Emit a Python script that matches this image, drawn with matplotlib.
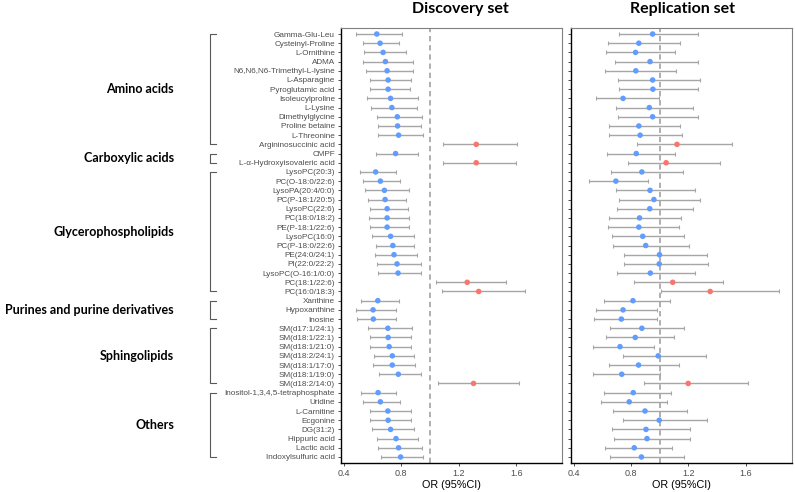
import numpy as np
import matplotlib.pyplot as plt
from matplotlib.lines import Line2D
import matplotlib.transforms as mtransforms

metabolites = [
    "Gamma-Glu-Leu", "Cysteinyl-Proline", "L-Ornithine", "ADMA",
    "N6,N6,N6-Trimethyl-L-lysine", "L-Asparagine", "Pyroglutamic acid",
    "Isoleucylproline", "L-Lysine", "Dimethylglycine", "Proline betaine",
    "L-Threonine", "Argininosuccinic acid",
    "CMPF", "L-\u03b1-Hydroxyisovaleric acid",
    "LysoPC(20:3)", "PC(O-18:0/22:6)", "LysoPA(20:4/0:0)", "PC(P-18:1/20:5)",
    "LysoPC(22:6)", "PC(18:0/18:2)", "PE(P-18:1/22:6)", "LysoPC(16:0)",
    "PC(P-18:0/22:6)", "PE(24:0/24:1)", "PI(22:0/22:2)", "LysoPC(O-16:1/0:0)",
    "PC(18:1/22:6)", "PC(16:0/18:3)",
    "Xanthine", "Hypoxanthine", "Inosine",
    "SM(d17:1/24:1)", "SM(d18:1/22:1)", "SM(d18:1/21:0)", "SM(d18:2/24:1)",
    "SM(d18:1/17:0)", "SM(d18:1/19:0)", "SM(d18:2/14:0)",
    "Inositol-1,3,4,5-tetraphosphate", "Uridine", "L-Carnitine", "Ecgonine",
    "DG(31:2)", "Hippuric acid", "Lactic acid", "Indoxylsulfuric acid",
]

groups = ["Amino acids", "Carboxylic acids", "Glycerophospholipids",
          "Purines and purine derivatives", "Sphingolipids", "Others"]
group_sizes = [13, 2, 14, 3, 7, 8]

# discovery set: odds ratio and 95% CI
disc_or = [0.629, 0.652, 0.673, 0.689, 0.701, 0.708, 0.708, 0.725, 0.734, 0.772,
           0.774, 0.781, 1.322, 0.760, 1.322,
           0.621, 0.654, 0.682, 0.687, 0.701, 0.701, 0.701, 0.725, 0.741, 0.749,
           0.770, 0.777, 1.259, 1.339,
           0.636, 0.603, 0.605,
           0.706, 0.708, 0.715, 0.737, 0.737, 0.779, 1.303,
           0.638, 0.654, 0.706, 0.708, 0.725, 0.763, 0.781, 0.795]
disc_lo = [0.483, 0.534, 0.541, 0.534, 0.555, 0.581, 0.583, 0.562, 0.591, 0.631,
           0.636, 0.640, 1.092, 0.626, 1.092,
           0.513, 0.532, 0.548, 0.565, 0.579, 0.572, 0.579, 0.593, 0.621, 0.617,
           0.628, 0.638, 1.042, 1.085,
           0.516, 0.485, 0.492,
           0.569, 0.579, 0.581, 0.610, 0.605, 0.647, 1.054,
           0.518, 0.530, 0.579, 0.579, 0.598, 0.633, 0.640, 0.657]
disc_hi = [0.805, 0.786, 0.833, 0.883, 0.883, 0.864, 0.862, 0.918, 0.911, 0.946,
           0.939, 0.951, 1.607, 0.915, 1.600,
           0.760, 0.788, 0.855, 0.833, 0.845, 0.852, 0.850, 0.890, 0.890, 0.911,
           0.939, 0.939, 1.529, 1.663,
           0.784, 0.760, 0.760,
           0.876, 0.864, 0.869, 0.887, 0.892, 0.939, 1.619,
           0.765, 0.788, 0.864, 0.869, 0.885, 0.915, 0.943, 0.951]

# replication set
rep_or = [0.950, 0.854, 0.831, 0.932, 0.833, 0.950, 0.952, 0.744, 0.927, 0.950,
          0.854, 0.863, 1.120, 0.836, 1.044,
          0.875, 0.694, 0.932, 0.959, 0.930, 0.859, 0.854, 0.881, 0.902, 0.998,
          0.996, 0.934, 1.090, 1.351,
          0.813, 0.744, 0.732,
          0.875, 0.829, 0.723, 0.989, 0.852, 0.735, 1.198,
          0.815, 0.787, 0.897, 0.996, 0.904, 0.911, 0.822, 0.872]
rep_lo = [0.716, 0.636, 0.622, 0.691, 0.620, 0.707, 0.718, 0.553, 0.698, 0.712,
          0.643, 0.643, 0.842, 0.629, 0.776,
          0.657, 0.505, 0.698, 0.718, 0.705, 0.643, 0.638, 0.664, 0.673, 0.751,
          0.749, 0.703, 0.822, 1.007,
          0.609, 0.553, 0.544,
          0.654, 0.622, 0.533, 0.742, 0.643, 0.535, 0.890,
          0.609, 0.588, 0.673, 0.746, 0.670, 0.682, 0.615, 0.650]
rep_hi = [1.269, 1.141, 1.108, 1.264, 1.115, 1.278, 1.264, 0.996, 1.234, 1.267,
          1.138, 1.157, 1.502, 1.106, 1.420,
          1.161, 0.921, 1.244, 1.278, 1.234, 1.145, 1.134, 1.168, 1.202, 1.328,
          1.333, 1.246, 1.443, 1.833,
          1.069, 0.980, 0.980,
          1.166, 1.099, 0.959, 1.319, 1.131, 0.998, 1.615,
          1.081, 1.049, 1.193, 1.326, 1.214, 1.212, 1.088, 1.168]

xticks = [0.4, 0.8, 1.2, 1.6]

BLUE = "#619CFF"
RED = "#F8766D"
n = len(metabolites)
ypos = np.arange(n)
colors = [RED if v > 1 else BLUE for v in disc_or]

plt.rcParams["font.family"] = ["Liberation Sans", "DejaVu Sans"]

fig = plt.figure(figsize=(7.95, 4.92), dpi=100)
ax1 = fig.add_axes([0.429, 0.059, 0.278, 0.884])
ax2 = fig.add_axes([0.718, 0.059, 0.278, 0.884])


def forest(ax, est, lo, hi, title, tx):
    est, lo, hi = np.array(est), np.array(lo), np.array(hi)
    ax.axvline(1.0, color="#9a9a9a", lw=1.1, ls=(0, (3.5, 2.5)), zorder=1)
    ax.errorbar(est, ypos, xerr=[est - lo, hi - est], fmt="none",
                ecolor="#a6a6a6", elinewidth=1.0, capsize=1.3, capthick=0.8,
                zorder=2)
    ax.scatter(est, ypos, s=16, c=colors, zorder=3, linewidths=0)
    ax.set_xlim(0.38, 1.92)
    ax.set_ylim(n - 1 + 0.65, -0.65)
    ax.set_xticks(xticks)
    ax.set_xticklabels([f"{t:.1f}" for t in xticks])
    ax.set_yticks(ypos)
    ax.tick_params(axis="both", labelsize=6.5, labelcolor="#4d4d4d",
                   length=2.5, width=0.6, pad=2, color="#333333")
    ax.set_xlabel("OR (95%CI)", fontsize=7.8, labelpad=1)
    for s in ["left", "bottom"]:
        ax.spines[s].set_color("black")
        ax.spines[s].set_linewidth(1.0)
    for s in ["top", "right"]:
        ax.spines[s].set_color("#808080")
        ax.spines[s].set_linewidth(0.8)
    fig.text(tx, 0.981, title, ha="center", va="center", fontsize=11.5,
             fontweight="bold", family=["Lato", "DejaVu Sans"])


forest(ax1, disc_or, disc_lo, disc_hi, "Discovery set", 460 / 795)
ax1.set_yticklabels(metabolites, fontsize=5.9, color="#4d4d4d")
forest(ax2, rep_or, rep_lo, rep_hi, "Replication set", 683 / 795)
ax2.set_yticklabels([])

# group brackets and names on the left
trans = mtransforms.blended_transform_factory(fig.transFigure, ax1.transData)
xb, xt = 210 / 795, 216 / 795
start = 0
for g, size in zip(groups, group_sizes):
    y0, y1 = start, start + size - 1
    fig.add_artist(Line2D([xt, xb, xb, xt], [y0, y0, y1, y1], transform=trans,
                          color="#595959", lw=0.8))
    fig.text(174 / 795, (y0 + y1) / 2, g, transform=trans, ha="right",
             va="center", fontsize=9.0, fontweight="bold",
             family=["Lato", "DejaVu Sans"])
    start += size

fig.savefig("out.png", dpi=100)
